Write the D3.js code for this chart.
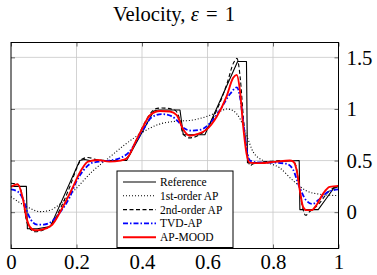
<!DOCTYPE html>
<html>
<head>
<meta charset="utf-8">
<script src="https://cdn.jsdelivr.net/npm/d3@7"></script>
<style>
  body { margin: 0; background: #fff; }
  svg text { font-family: "Liberation Serif", "DejaVu Serif", serif; fill: #000; }
</style>
</head>
<body>
<svg id="chart" width="377" height="275"></svg>
<script>
// --- data: [x, velocity] ---
const xTicks = [0, 0.2, 0.4, 0.6, 0.8, 1];
const yTicks = [0, 0.5, 1, 1.5];
const seriesNames = ["Reference", "1st-order AP", "2nd-order AP", "TVD-AP", "AP-MOOD"];

const reference = [
  [0, 0.25], [0.047, 0.25], [0.05, -0.16], [0.08, -0.16], [0.12, -0.14], [0.21, 0.5],
  [0.225, 0.51], [0.24, 0.5], [0.353, 0.5], [0.436, 0.98], [0.45, 0.99], [0.516, 0.99],
  [0.526, 0.75], [0.592, 0.75], [0.692, 1.46], [0.719, 1.46], [0.722, 0.48],
  [0.75, 0.48], [0.88, 0.5], [0.882, 0.025], [0.938, 0.025], [0.96, 0.12],
  [0.985, 0.23], [1, 0.25]
];
const firstOrder = [
  [0, 0.15], [0.05, 0.05], [0.09, 0.005], [0.12, 0.02], [0.15, 0.08], [0.19, 0.2],
  [0.25, 0.4], [0.3, 0.53], [0.35, 0.66], [0.4, 0.77], [0.45, 0.85], [0.5, 0.88],
  [0.55, 0.89], [0.6, 0.93], [0.64, 0.98], [0.66, 1.0], [0.68, 0.98], [0.7, 0.9],
  [0.72, 0.74], [0.74, 0.58], [0.77, 0.5], [0.82, 0.43], [0.86, 0.31], [0.9, 0.21],
  [0.94, 0.175], [1, 0.16]
];
const secondOrder = [
  [0, 0.28], [0.02, 0.27], [0.035, 0.15], [0.045, -0.05], [0.055, -0.15], [0.075, -0.19],
  [0.1, -0.17], [0.12, -0.13], [0.15, 0.03], [0.18, 0.25], [0.2, 0.42], [0.215, 0.51],
  [0.235, 0.53], [0.26, 0.51], [0.3, 0.5], [0.34, 0.5], [0.36, 0.55], [0.39, 0.75],
  [0.42, 0.93], [0.44, 1.0], [0.46, 1.01], [0.5, 0.99], [0.515, 0.9], [0.525, 0.76],
  [0.545, 0.72], [0.57, 0.74], [0.6, 0.82], [0.63, 1.0], [0.66, 1.25], [0.68, 1.45],
  [0.69, 1.49], [0.7, 1.3], [0.71, 0.9], [0.72, 0.6], [0.73, 0.45], [0.74, 0.47],
  [0.78, 0.49], [0.84, 0.5], [0.86, 0.5], [0.87, 0.45], [0.88, 0.25], [0.89, 0.05],
  [0.9, -0.03], [0.91, 0.0], [0.94, 0.08], [0.97, 0.2], [1, 0.26]
];
const tvdAP = [
  [0, 0.22], [0.02, 0.2], [0.04, 0.1], [0.05, 0.0], [0.06, -0.07], [0.08, -0.12],
  [0.1, -0.12], [0.12, -0.1], [0.15, 0.0], [0.18, 0.15], [0.2, 0.3], [0.22, 0.4],
  [0.25, 0.48], [0.3, 0.5], [0.33, 0.52], [0.36, 0.58], [0.4, 0.78], [0.43, 0.92],
  [0.46, 0.95], [0.49, 0.93], [0.51, 0.88], [0.53, 0.81], [0.55, 0.79], [0.58, 0.8],
  [0.61, 0.87], [0.64, 1.0], [0.67, 1.15], [0.69, 1.21], [0.7, 1.1], [0.71, 0.85],
  [0.72, 0.6], [0.73, 0.5], [0.76, 0.48], [0.8, 0.48], [0.84, 0.47], [0.86, 0.42],
  [0.88, 0.25], [0.9, 0.12], [0.92, 0.08], [0.94, 0.12], [0.97, 0.2], [1, 0.22]
];
const apMood = [
  [0, 0.245], [0.02, 0.27], [0.037, 0.12], [0.047, -0.05], [0.057, -0.14], [0.072, -0.175],
  [0.093, -0.17], [0.123, -0.13], [0.153, 0.02], [0.184, 0.21], [0.215, 0.41], [0.235, 0.49],
  [0.265, 0.505], [0.3, 0.49], [0.335, 0.5], [0.353, 0.52], [0.383, 0.7], [0.404, 0.83],
  [0.424, 0.94], [0.455, 0.98], [0.485, 0.975], [0.506, 0.94], [0.526, 0.8], [0.546, 0.74],
  [0.567, 0.755], [0.597, 0.8], [0.628, 0.925], [0.658, 1.12], [0.678, 1.3], [0.689, 1.33],
  [0.699, 1.18], [0.709, 0.83], [0.719, 0.57], [0.729, 0.48], [0.76, 0.475], [0.81, 0.49],
  [0.851, 0.5], [0.862, 0.49], [0.872, 0.41], [0.882, 0.21], [0.892, 0.05], [0.902, 0.02],
  [0.918, 0.02], [0.933, 0.07], [0.953, 0.18], [0.973, 0.245], [1, 0.255]
];

const svg = d3.select("#chart");
const margin = { top: 42.5, right: 38.5, bottom: 26.5, left: 11 };
const width = 377, height = 275;

const x = d3.scaleLinear().domain([0, 1]).range([margin.left, width - margin.right]);
const y = d3.scaleLinear().domain([-0.352, 1.644]).range([height - margin.bottom, margin.top]);

// grid
const grid = svg.append("g").attr("stroke", "#c8c8c8").attr("stroke-width", 0.8);
grid.selectAll(".gx").data(xTicks.slice(1, -1)).join("line")
  .attr("x1", d => x(d)).attr("x2", d => x(d))
  .attr("y1", margin.top).attr("y2", height - margin.bottom);
grid.selectAll(".gy").data(yTicks).join("line")
  .attr("x1", margin.left).attr("x2", width - margin.right)
  .attr("y1", d => y(d)).attr("y2", d => y(d));

// axes: bottom labels, right labels, inward ticks on all sides
const xb = svg.append("g").attr("transform", `translate(0,${height - margin.bottom})`)
  .call(d3.axisBottom(x).tickValues(xTicks).tickSize(-4).tickPadding(5.5).tickFormat(d3.format("")));
const xt = svg.append("g").attr("transform", `translate(0,${margin.top})`)
  .call(d3.axisTop(x).tickValues(xTicks).tickSize(-4).tickFormat(""));
const yr = svg.append("g").attr("transform", `translate(${width - margin.right},0)`)
  .call(d3.axisRight(y).tickValues(yTicks).tickSize(-4).tickPadding(8).tickFormat(d3.format("")));
const yl = svg.append("g").attr("transform", `translate(${margin.left},0)`)
  .call(d3.axisLeft(y).tickValues(yTicks).tickSize(-4).tickFormat(""));

// size tick labels so that "0.2" is about 26px wide, like the TeX original
let tickSize = 20;
const probe = xb.selectAll("text").filter(d => d === 0.2).attr("font-size", tickSize);
const w02 = probe.node().getComputedTextLength();
if (w02 > 0) tickSize = Math.min(24, Math.max(16, tickSize * 26 / w02));
[xb, xt, yr, yl].forEach(g => {
  g.select(".domain").remove();
  g.selectAll(".tick line").attr("stroke", "#444").attr("stroke-width", 0.8);
  g.selectAll("text").attr("font-size", tickSize);
});
yr.selectAll("text").attr("text-anchor", "start");

// curves
const line = d3.line().x(d => x(d[0])).y(d => y(d[1]));
const curveSmooth = d3.line().x(d => x(d[0])).y(d => y(d[1])).curve(d3.curveMonotoneX);
const styles = [
  { data: reference, color: "#000", w: 1.1, dash: null, gen: line },
  { data: firstOrder, color: "#000", w: 1.1, dash: "1,2", gen: curveSmooth },
  { data: secondOrder, color: "#000", w: 1.1, dash: "4,2.5", gen: curveSmooth },
  { data: tvdAP, color: "#0000ff", w: 1.8, dash: "5,2,1.5,2", gen: curveSmooth },
  { data: apMood, color: "#ff0000", w: 1.9, dash: null, gen: curveSmooth }
];
const plot = svg.append("g");
styles.forEach(s => {
  plot.append("path").attr("d", s.gen(s.data))
    .attr("fill", "none").attr("stroke", s.color).attr("stroke-width", s.w)
    .attr("stroke-dasharray", s.dash).attr("stroke-linejoin", "round");
});

// frame
svg.append("rect")
  .attr("x", margin.left).attr("y", margin.top)
  .attr("width", width - margin.right - margin.left)
  .attr("height", height - margin.bottom - margin.top)
  .attr("fill", "none").attr("stroke", "#000").attr("stroke-width", 1);

// legend
const lg = svg.append("g").attr("transform", "translate(117,171)");
lg.append("rect").attr("width", 116).attr("height", 76.5)
  .attr("fill", "#fff").attr("stroke", "#000").attr("stroke-width", 1);
styles.forEach((s, i) => {
  const yy = 11 + i * 13.8;
  lg.append("line").attr("x1", 6).attr("x2", 39).attr("y1", yy).attr("y2", yy)
    .attr("stroke", s.color).attr("stroke-width", s.w).attr("stroke-dasharray", s.dash);
  lg.append("text").attr("x", 43).attr("y", yy).attr("dy", "0.35em")
    .attr("font-size", 11.5).text(seriesNames[i]);
});

// title, sized to span about 122px like the original
const title = svg.append("text").attr("x", 174).attr("y", 20.5)
  .attr("text-anchor", "middle").attr("font-size", 19);
title.append("tspan").text("Velocity, ");
title.append("tspan").attr("font-style", "italic").text("ε");
title.append("tspan").attr("dx", 2).text(" = ");
title.append("tspan").attr("dx", 2).text("1");
const tw = title.node().getComputedTextLength();
if (tw > 0) title.attr("font-size", Math.min(23, Math.max(15, 19 * 118 / tw)));
</script>
</body>
</html>
